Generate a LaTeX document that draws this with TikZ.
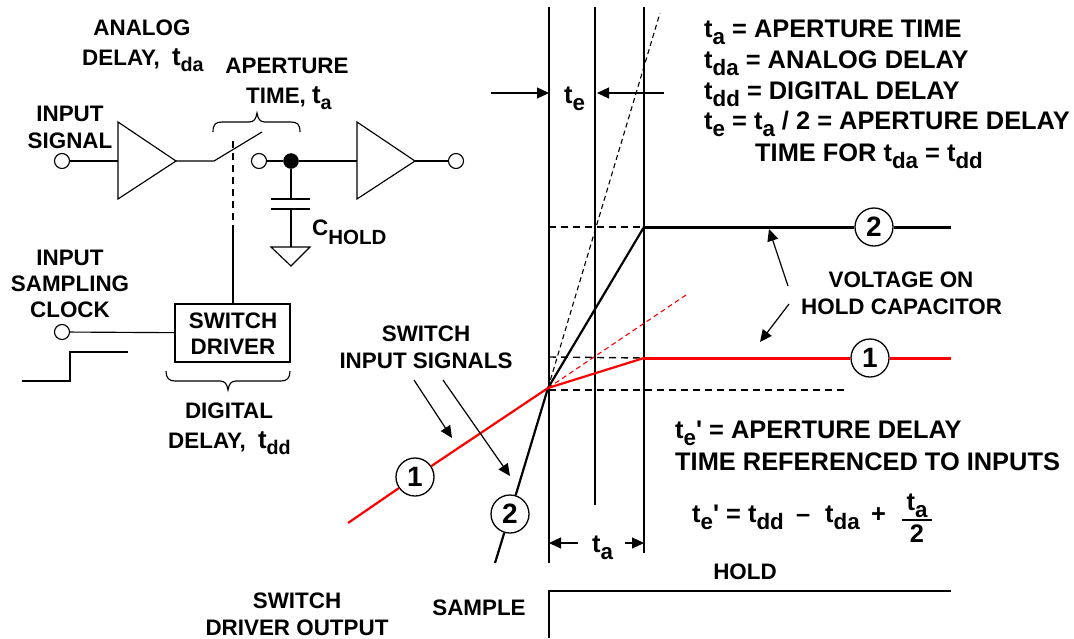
\documentclass[tikz,border=0pt]{standalone}
\usepackage{fontspec}
\usepackage{graphicx}
\setmainfont{Liberation Sans}
\usetikzlibrary{arrows.meta,calc}
\newcommand{\sbx}[1]{\raisebox{-0.3em}{\scalebox{0.88}{#1}}}
\newcommand{\tv}{\scalebox{1.15}{t}}
\definecolor{sigred}{RGB}{255,0,0}
\tikzset{
  x=1pt,y=-1pt,
  wire/.style={line width=1.15pt,black},
  ledge/.style={line width=1.4pt,dash pattern=on 7pt off 5pt},
  fine dash/.style={line width=1.1pt,dash pattern=on 5pt off 3.5pt},
  trace/.style={line width=2.2pt},
  hold/.style={line width=3pt},
  arr/.style={line width=1.2pt,-{Triangle[length=12pt,width=11pt]}},
  lab/.style={inner sep=0pt,anchor=base,font=\fontsize{22.4}{24}\selectfont\bfseries},
  labl/.style={inner sep=0pt,anchor=base west,font=\fontsize{22.4}{24}\selectfont\bfseries},
  big/.style={inner sep=0pt,anchor=base west,font=\fontsize{25.4}{28}\selectfont\bfseries},
  port/.style={circle,draw,line width=1.15pt,fill=white,minimum size=15pt,inner sep=0pt},
  dot/.style={circle,draw,fill=black,minimum size=15pt,inner sep=0pt},
  tag/.style={circle,draw,line width=1.3pt,fill=white,minimum size=38pt,inner sep=0pt,font=\fontsize{28}{28}\selectfont\bfseries},
  tri/.style={wire,fill=white,line join=miter},
}
\begin{document}
\begin{tikzpicture}
\useasboundingbox (0,0) rectangle (1074,638);
% ---- circuit
\coordinate (a1l) at (118,161); \coordinate (a1o) at (176,161);
\coordinate (a2l) at (357,161); \coordinate (a2o) at (415,161);
\coordinate (swa) at (214,161); \coordinate (swb) at (262,132);
\coordinate (swm) at (233,141); \coordinate (dsh) at (233,232);
\coordinate (cpt) at (291,199); \coordinate (cpb) at (291,209); \coordinate (gnd) at (291,247);
\node[port] (in) at (62,161) {};
\node[port] (sw2) at (259,161) {};
\node[dot] (junc) at (291,161) {};
\node[port] (out) at (456,161) {};
\node[port] (clk) at (62,332) {};
\node[draw,line width=1.15pt,minimum width=115pt,minimum height=58pt,inner sep=0pt] (drv) at (232.5,333) {};
\draw[wire] (in) -- (a1l);
\draw[tri] (118,122) -- (118,199) -- (a1o) -- cycle;
\draw[wire] (a1o) -- (swa) -- (swb);
\draw[wire] (sw2) -- (junc) -- (a2l);
\draw[tri] (357,122) -- (357,199) -- (a2o) -- cycle;
\draw[wire] (a2o) -- (out);
\draw[wire] (junc) -- (cpt);
\draw[wire] (271,199) -- (310,199);
\draw[wire] (271,209) -- (310,209);
\draw[wire] (cpb) -- (gnd);
\draw[tri] (271,247) -- (310,247) -- (291,266) -- cycle;
\draw[ledge] (swm) -- (dsh);
\draw[wire] (dsh) -- (233,304);
\draw[wire] (clk) -- (drv);
\draw[wire] (22,381) -- (70,381) -- (70,352) -- (128,352);
% braces
\draw[wire] (213,132) .. controls (213,124) and (216,122) .. (222,122) -- (249,122)
  .. controls (254,122) and (256,119) .. (257,113) .. controls (258,119) and (260,122) .. (265,122)
  -- (291,122) .. controls (297,122) and (300,124) .. (300,132);
\draw[wire] (166,371) .. controls (166,378) and (169,381) .. (175,381) -- (220,381)
  .. controls (225,381) and (227,384) .. (228,390) .. controls (229,384) and (231,381) .. (236,381)
  -- (281,381) .. controls (287,381) and (290,378) .. (290,371);
% circuit labels
\node[lab] (t1) at (142,35) {ANALOG};
\node[labl] (t2) at (82,65) {DELAY,\hspace{6pt} \tv\sbx{da}};
\node[lab] (t3) at (287,73) {APERTURE};
\node[labl] (t4) at (246,103) {TIME, \tv\sbx{a}};
\node[lab] (t5) at (70,121) {INPUT};
\node[lab] (t6) at (70,148) {SIGNAL};
\node[lab] (t7) at (70,265) {INPUT};
\node[lab] (t8) at (70,291) {SAMPLING};
\node[lab] (t9) at (70,317) {CLOCK};
\node[labl] (t10) at (312,235) {C\raisebox{-9pt}{\fontsize{20.5}{22}\selectfont HOLD}};
\node[lab] (t11) at (233,328) {SWITCH};
\node[lab] (t12) at (233,354) {DRIVER};
\node[lab] (t13) at (229,418) {DIGITAL};
\node[labl] (t14) at (168,448) {DELAY,\hspace{6pt} \tv\sbx{dd}};
\node[lab] (t15) at (426,341) {SWITCH};
\node[lab] (t16) at (426,368) {INPUT SIGNALS};
\node[lab] (t17) at (297,608) {SWITCH};
\node[lab] (t18) at (297,635) {DRIVER OUTPUT};
\node[lab] (t19) at (479,615) {SAMPLE};
\node[lab] (t20) at (745,579) {HOLD};
% ---- timing
\coordinate (o) at (548,388);
\coordinate (k2) at (644,227);
\coordinate (k1) at (644,358);
\draw[wire] (549,7) -- (549,563);
\draw[wire] (595,7) -- (595,505);
\draw[wire] (644,7) -- (644,553);
\draw[fine dash] (o) -- (660,13);
\draw[fine dash,sigred] (o) -- (686,295);
\draw[ledge] (549,227) -- (k2);
\draw[ledge] (549,357) -- (k1);
\draw[ledge] (549,390) -- (846,390);
\node[tag] (n2b) at (510,514) {2};
\node[tag] (n1b) at (415,477) {1};
\node[tag] (n2a) at (874,227) {2};
\node[tag] (n1a) at (870,358) {1};
\coordinate (r0) at (348,523);
\coordinate (b0) at (495,563);
\draw[trace] (b0) -- (n2b);
\draw[trace] (n2b) -- (o) -- (k2);
\draw[hold] (k2) -- (n2a) (n2a) -- (951,227);
\draw[trace,sigred] (r0) -- (n1b) (n1b) -- (o) -- (k1);
\draw[hold,sigred] (k1) -- (n1a) (n1a) -- (951,358);
% arrows
\coordinate (ae1) at (491,93); \coordinate (ae2) at (664,93);
\draw[arr] (ae1) -- (549,93);
\draw[arr] (ae2) -- (597,93);
\draw[arr] (578,543) -- (549,543);
\draw[arr] (625,543) -- (644,543);
\draw[arr] (414,380) -- (452,438);
\draw[arr] (443,380) -- (510,476);
\draw[arr] (788,286) -- (769,229);
\draw[arr] (789,304) -- (760,342);
% sample-hold step
\draw[wire] (549,638) -- (549,591) -- (951,591);
% right-hand text
\node[big] (x1) at (564,103) {t\sbx{e}};
\node[big] (x2) at (592,552) {t\sbx{a}};
\node[big] (r1) at (704,37) {t\sbx{a} = APERTURE TIME};
\node[big] (r2) at (704,68) {t\sbx{da} = ANALOG DELAY};
\node[big] (r3) at (704,99) {t\sbx{dd} = DIGITAL DELAY};
\node[big] (r4) at (704,129) {t\sbx{e} = t\sbx{a} / 2 = APERTURE DELAY};
\node[big] (r5) at (755,161) {TIME FOR t\sbx{da} = t\sbx{dd}};
\node[lab] (v1) at (901,287) {VOLTAGE ON};
\node[labl] (v2) at (801,314) {HOLD CAPACITOR};
\node[big] (e1) at (675,438) {t\sbx{e}\textquotesingle{} = APERTURE DELAY};
\node[big] (e2) at (675,470) {TIME REFERENCED TO INPUTS};
\node[big] (f1) at (692,522) {t\sbx{e}\textquotesingle{} = t\sbx{dd}};
\node[big] (f2) at (796,522) {\textendash};
\node[big] (f3) at (825,522) {t\sbx{da}};
\node[big] (f4) at (871,522) {+};
\node[big,anchor=base] (f5) at (917,510) {t\sbx{a}};
\node[big,anchor=base] (f6) at (917,542) {2};
\draw[wire] (f6.north west)+(-8,-4) coordinate (fl) -- ($(f6.north east)+(8,-4)$);
\end{tikzpicture}
\end{document}
